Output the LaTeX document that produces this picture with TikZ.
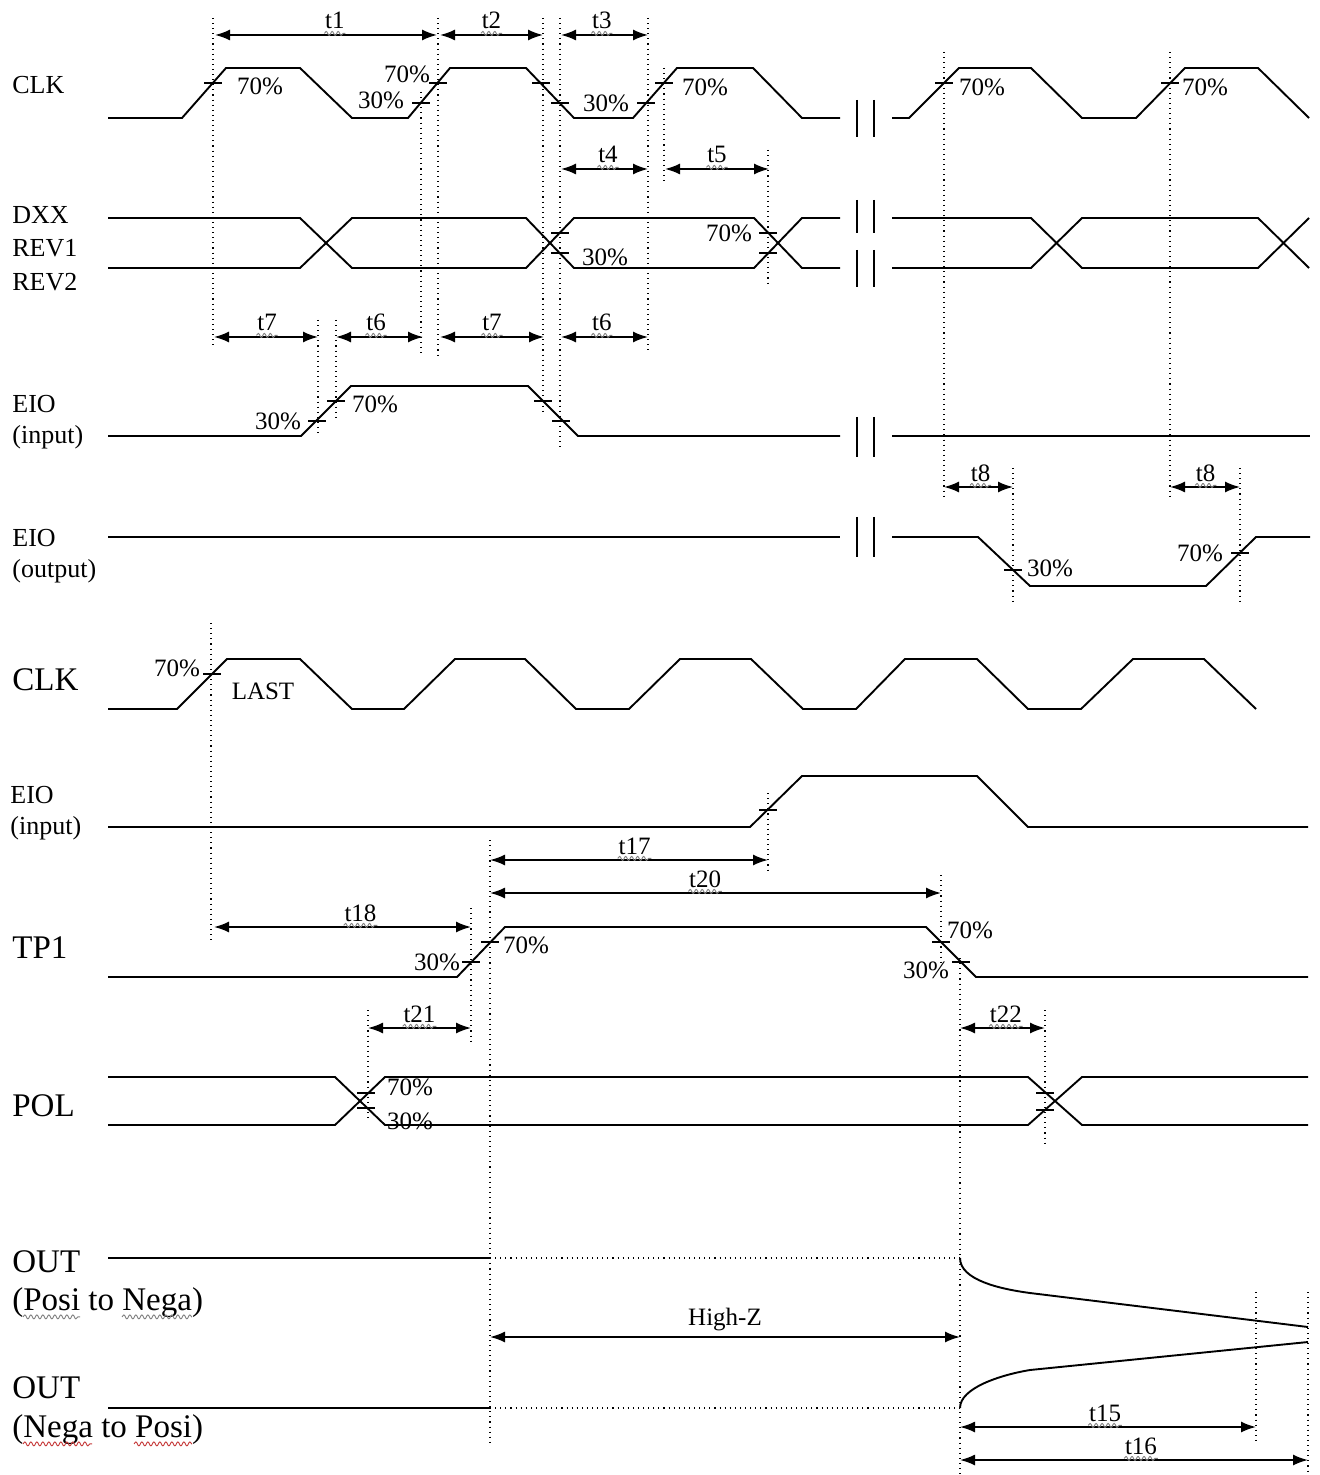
\documentclass[tikz,border=0pt]{standalone}
\usepackage{fontspec}
\setmainfont{Liberation Serif}
\usetikzlibrary{arrows.meta,decorations.pathmorphing}

\begin{document}
\begin{tikzpicture}[
    x=0.5pt, y=-0.5pt,
    wave/.style={line width=0.95pt},
    tickmark/.style={line width=0.7pt},
    guide/.style={dotted, line width=0.55pt},
    brk/.style={line width=0.95pt},
    dim/.style={{Latex[length=7.5pt,width=5.5pt]}-{Latex[length=7.5pt,width=5.5pt]}, line width=0.85pt},
    squig/.style={decorate, decoration={snake, segment length=3pt, amplitude=1pt}, draw=black!50, line width=0.45pt},
    redsquig/.style={squig, draw=red!55!gray},
    tlabel/.style={anchor=base, yshift=3pt, inner sep=0pt, font=\fontsize{12.5}{15}\selectfont},
    pct/.style={inner sep=0pt, font=\fontsize{12.5}{15}\selectfont},
    sig/.style={anchor=west, inner sep=0pt, font=\fontsize{13}{16}\selectfont},
    bigsig/.style={anchor=west, inner sep=0pt, font=\fontsize{16.5}{20}\selectfont}
]
    \fill[white] (0,0) rectangle (1320,1475);
    \useasboundingbox (0,0) rectangle (1320,1475);

    % signal names
    \node[sig] (clk1) at (12,85) {CLK};
    \node[sig] (dxx) at (12,215) {DXX};
    \node[sig] (rev1) at (12,248) {REV1};
    \node[sig] (rev2) at (12,282) {REV2};
    \node[sig] (eio1) at (12,404) {EIO};
    \node[sig] (eio1s) at (12,437) {(input)};
    \node[sig] (eio2) at (12,538) {EIO};
    \node[sig] (eio2s) at (12,571) {(output)};
    \node[bigsig] (clk2) at (12,680) {CLK};
    \node[sig] (eio3) at (10,795) {EIO};
    \node[sig] (eio3s) at (10,828) {(input)};
    \node[bigsig] (tp1) at (12,948) {TP1};
    \node[bigsig] (pol) at (12,1106) {POL};
    \node[bigsig] (out1) at (12,1262) {OUT};
    \node[bigsig] (out1s) at (12,1303) {(Posi to Nega)};
    \node[bigsig] (out2) at (12,1388) {OUT};
    \node[bigsig] (out2s) at (12,1430) {(Nega to Posi)};
    \draw[squig] ([xshift=5.5pt,yshift=-3pt]out1s.base west) -- ([xshift=34pt,yshift=-3pt]out1s.base west);
    \draw[squig] ([xshift=55pt,yshift=-3pt]out1s.base west) -- ([xshift=90pt,yshift=-3pt]out1s.base west);
    \draw[redsquig] ([xshift=5.5pt,yshift=-3pt]out2s.base west) -- ([xshift=40pt,yshift=-3pt]out2s.base west);
    \draw[redsquig] ([xshift=61pt,yshift=-3pt]out2s.base west) -- ([xshift=90pt,yshift=-3pt]out2s.base west);

    % waveforms, upper part
    \draw[wave] (108,118) -- (182,118) -- (226,68) -- (300,68) -- (352,118) -- (408,118) -- (450,68) -- (526,68) -- (574,118) -- (633,118) -- (677,68) -- (753,68) -- (802,118) -- (840,118);
    \draw[wave] (892,118) -- (909,118) -- (959,68) -- (1031,68) -- (1082,118) -- (1136,118) -- (1185,68) -- (1258,68) -- (1309,118);
    \draw[wave] (108,218) -- (300,218) -- (352,268) -- (526,268) -- (574,218) -- (754,218) -- (802,268) -- (840,268);
    \draw[wave] (108,268) -- (300,268) -- (352,218) -- (526,218) -- (574,268) -- (754,268) -- (802,218) -- (840,218);
    \draw[wave] (892,218) -- (1031,218) -- (1082,268) -- (1258,268) -- (1309,218);
    \draw[wave] (892,268) -- (1031,268) -- (1082,218) -- (1258,218) -- (1309,268);
    \draw[wave] (108,436) -- (301,436) -- (351,386) -- (528,386) -- (578,436) -- (840,436);
    \draw[wave] (892,436) -- (1310,436);
    \draw[wave] (108,537) -- (840,537);
    \draw[wave] (892,537) -- (978,537) -- (1030,586) -- (1206,586) -- (1256,537) -- (1310,537);

    % breaks
    \foreach \ya/\yb in {100/137, 200/233, 250/287, 417/457, 517/557}
        \draw[brk] (857,\ya) -- (857,\yb) (874,\ya) -- (874,\yb);

    % waveforms, lower part
    \draw[wave] (108,709) -- (177,709) -- (227,659) -- (300,659) -- (352,709) -- (404,709) -- (455,659) -- (525,659) -- (576,709) -- (629,709) -- (680,659) -- (751,659) -- (803,709) -- (856,709) -- (905,659) -- (977,659) -- (1028,709) -- (1081,709) -- (1133,659) -- (1204,659) -- (1256,709);
    \draw[wave] (108,827) -- (750,827) -- (802,776) -- (977,776) -- (1028,827) -- (1308,827);
    \draw[wave] (108,977) -- (457,977) -- (505,927) -- (926,927) -- (976,977) -- (1308,977);
    \draw[wave] (108,1077) -- (335,1077) -- (385,1125) -- (1028,1125) -- (1082,1077) -- (1308,1077);
    \draw[wave] (108,1125) -- (335,1125) -- (385,1077) -- (1028,1077) -- (1082,1125) -- (1308,1125);
    \draw[wave] (108,1258) -- (490,1258);
    \draw[guide] (490,1258) -- (960,1258);
    \draw[wave] (960,1258) .. controls (960,1280) and (1000,1289) .. (1030,1293) -- (1308,1327);
    \draw[wave] (108,1408) -- (490,1408);
    \draw[guide] (490,1408) -- (960,1408);
    \draw[wave] (960,1408) .. controls (960,1388) and (1000,1375) .. (1030,1370) -- (1308,1342);

    % 30% / 70% marks
    \foreach \x/\y in {213/83, 421/103, 438/83, 541/83, 560/103, 646/103, 664/83, 944/83, 1170/83,
                       560/233, 560/253, 768/233, 768/253,
                       317/421, 336/401, 543/401, 561/421, 1013/570, 1240/553,
                       212/674, 768/810, 471/962, 490/942, 941/942, 961/962,
                       366/1093, 366/1108, 1045/1093, 1045/1110}
        \draw[tickmark] ({\x-9},\y) -- ({\x+9},\y);

    % reference lines
    \foreach \x/\ya/\yb in {213/18/348, 421/92/355, 438/18/355, 543/18/415, 560/18/450, 648/18/350,
                            664/68/182, 768/150/287, 318/320/433, 336/320/417,
                            944/52/500, 1170/52/500, 1013/468/603, 1240/468/603,
                            211/623/942, 768/793/873, 490/840/1445, 941/875/963, 471/908/1043,
                            960/958/1475, 368/1010/1122, 1045/1010/1143, 1256/1292/1443, 1308/1292/1475}
        \draw[guide] (\x,\ya) -- (\x,\yb);

    % level labels
    \foreach \nm/\x/\y/\v in {pc1/260/86/70, pc2/407/74/70, pc3/381/100/30, pc4/606/103/30,
                              pc5/705/87/70, pc6/982/87/70, pc7/1205/87/70,
                              pc8/605/257/30, pc9/729/233/70,
                              pc10/278/421/30, pc11/375/404/70, pc12/1050/568/30, pc13/1200/553/70,
                              pc14/177/668/70, pc15/437/962/30, pc16/526/945/70,
                              pc17/970/930/70, pc18/926/970/30, pc19/410/1087/70, pc20/410/1121/30}
        \node[pct] (\nm) at (\x,\y) {\v\%};
    \node[pct] (last) at (263,691) {LAST};

    % timing arrows
    \foreach \nm/\xa/\xb/\yy/\p/\txt in {
        t1/215/437/35/0.54/t1, t2/440/543/35/0.5/t2, t3/561/648/35/0.47/t3,
        t4/561/648/169/0.54/t4, t5/665/769/169/0.5/t5,
        t7a/214/318/337/0.51/t7, t6a/336/423/337/0.46/t6, t7b/440/544/337/0.5/t7, t6b/561/648/337/0.47/t6,
        t8a/944/1013/487/0.53/t8, t8b/1170/1240/487/0.51/t8,
        t17/490/768/860/0.52/t17, t20/490/941/893/0.477/t20, t18/214/471/927/0.57/t18,
        t21/368/471/1028/0.5/t21, t22/960/1045/1028/0.54/t22,
        t15/960/1256/1427/0.49/t15, t16/960/1308/1460/0.52/t16}
    {
        \coordinate (\nm-l) at (\xa,\yy);
        \coordinate (\nm-r) at (\xb,\yy);
        \draw[dim] (\nm-l) -- node[tlabel, pos=\p] (\nm-lbl) {\txt} (\nm-r);
        \draw[squig] ([yshift=-2.2pt]\nm-lbl.base west) -- ([yshift=-2.2pt]\nm-lbl.base east);
    }
    \coordinate (hz-l) at (490,1337);
    \coordinate (hz-r) at (960,1337);
    \draw[dim] (hz-l) -- node[tlabel, yshift=3pt] (hz-lbl) {High-Z} (hz-r);
\end{tikzpicture}
\end{document}
